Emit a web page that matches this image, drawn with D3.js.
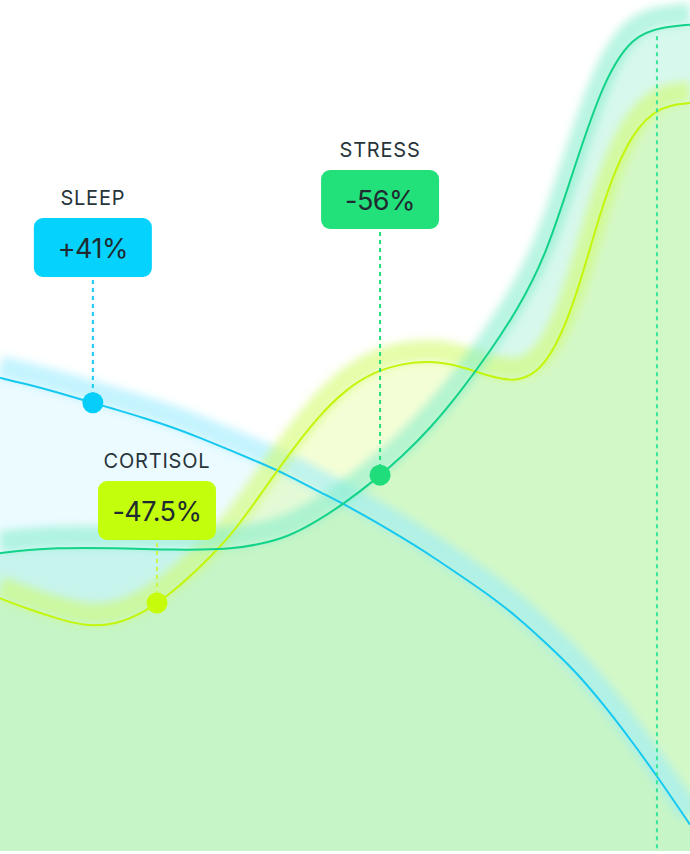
<!DOCTYPE html>
<html>
<head>
<meta charset="utf-8">
<script src="https://cdn.jsdelivr.net/npm/d3@7"></script>
<style>
  html, body { margin: 0; padding: 0; background: #ffffff; }
  svg { display: block; }
</style>
</head>
<body>
<div id="chart"></div>
<script>
// ---------- DATA ----------
const xSteps = d3.range(0, 25);
const sleepValues    = [55.6, 54.8, 53.9, 52.9, 51.9, 50.9, 49.8, 48.5, 47.1, 45.7, 44.2, 42.4, 40.7, 38.8, 36.8, 34.7, 32.4, 30.1, 27.5, 24.4, 21.2, 17.2, 12.8, 8.1, 3.1];
const stressValues   = [35.0, 35.4, 35.6, 35.6, 35.6, 35.5, 35.4, 35.4, 35.5, 36.0, 36.9, 38.7, 40.9, 43.5, 46.4, 49.8, 53.9, 58.5, 63.6, 70.0, 80.6, 90.6, 95.8, 96.8, 97.1];
const cortisolValues = [29.7, 28.4, 27.3, 26.4, 26.6, 28.0, 30.4, 33.5, 36.9, 41.6, 46.4, 50.8, 54.2, 56.3, 57.3, 57.6, 57.0, 55.8, 55.0, 56.8, 64.2, 76.9, 84.7, 87.6, 87.9];
const seriesNames  = ["SLEEP", "STRESS", "CORTISOL"];
const changeLabels = ["+41%", "-56%", "-47.5%"];
const markerX      = [3.23, 13.22, 5.46];
const guideX       = 22.85;

// ---------- LAYOUT / STYLE ----------
const W = 690, H = 854, bottom = 851;
const labelBoxTop = [218, 170, 481];
const styles = [
  { fill: "rgb(0,200,255)",  fillOp: 0.075, line: "#17c9f0", glow: "#95ebff", glowOp: 0.55, box: "#05d3fe", dot: "#05cefb", dash: "#18cdf4" },
  { fill: "rgb(20,215,150)", fillOp: 0.17,  line: "#12d389", glow: "#80ecca", glowOp: 0.55, box: "#22e07a", dot: "#1fdd7b", dash: "#22dd7c" },
  { fill: "rgb(195,250,30)", fillOp: 0.18,  line: "#c4f50c", glow: "#cffb60", glowOp: 0.55, box: "#c3fe0c", dot: "#c6fc0b", dash: "#cdf54a" }
];
const seriesValues = [sleepValues, stressValues, cortisolValues];

const x = d3.scaleLinear().domain([0, 24]).range([0, W]);
const y = d3.scaleLinear().domain([0, 100]).range([bottom, 0]);

const svg = d3.select("#chart").append("svg")
  .attr("width", W).attr("height", H)
  .style("font-family", "Inter, 'Noto Sans', sans-serif");

const defs = svg.append("defs");
defs.append("filter").attr("id", "blur")
  .attr("x", "-10%").attr("y", "-10%").attr("width", "120%").attr("height", "120%")
  .append("feGaussianBlur").attr("stdDeviation", 4);
defs.append("clipPath").attr("id", "clip")
  .append("rect").attr("x", 0).attr("y", 0).attr("width", W).attr("height", bottom);

const root = svg.append("g").attr("clip-path", "url(#clip)");

const series = seriesValues.map((vals, i) => ({
  name: seriesNames[i], style: styles[i],
  pts: xSteps.map((s, j) => ({ s, v: vals[j] }))
}));

const curve = d3.curveBasis;
const area = d3.area().curve(curve)
  .x(d => x(d.s)).y0(y(0)).y1(d => y(d.v));
const line = d3.line().curve(curve)
  .x(d => x(d.s)).y(d => y(d.v));

// fills
series.forEach(sr => {
  root.append("path").attr("d", area(sr.pts))
    .attr("fill", sr.style.fill).attr("fill-opacity", sr.style.fillOp);
});

// glows (order: sleep, cortisol, stress)
[0, 2, 1].forEach(i => {
  const sr = series[i];
  root.append("path").attr("d", line(sr.pts))
    .attr("transform", "translate(0,-11)")
    .attr("fill", "none").attr("stroke", sr.style.glow)
    .attr("stroke-width", 22).attr("stroke-opacity", sr.style.glowOp)
    .attr("filter", "url(#blur)");
});

// lines
const linePaths = [];
[0, 2, 1].forEach(i => {
  const sr = series[i];
  linePaths[i] = root.append("path").attr("d", line(sr.pts))
    .attr("fill", "none").attr("stroke", sr.style.line)
    .attr("stroke-width", 2);
});

function yAtX(pathSel, px) {
  const node = pathSel.node();
  const total = node.getTotalLength();
  let lo = 0, hi = total;
  for (let k = 0; k < 40; k++) {
    const mid = (lo + hi) / 2;
    if (node.getPointAtLength(mid).x < px) lo = mid; else hi = mid;
  }
  return node.getPointAtLength((lo + hi) / 2).y;
}

// vertical guide on the right
const gx = x(guideX);
const gTop = yAtX(linePaths[1], gx) + 7;
root.append("line").attr("x1", gx).attr("x2", gx).attr("y1", gTop).attr("y2", H)
  .attr("stroke", "#36e69b").attr("stroke-width", 2).attr("stroke-dasharray", "4,4");

// markers + labels
series.forEach((sr, i) => {
  const mx = x(markerX[i]);
  const my = yAtX(linePaths[i], mx);
  const top = labelBoxTop[i];
  const bw = 118, bh = 59;

  svg.append("line").attr("x1", mx).attr("x2", mx)
    .attr("y1", top + bh + 3).attr("y2", my)
    .attr("stroke", sr.style.dash).attr("stroke-width", 2).attr("stroke-dasharray", "4,4");

  svg.append("circle").attr("cx", mx).attr("cy", my).attr("r", 10.5)
    .attr("fill", sr.style.dot);

  svg.append("rect").attr("x", mx - bw / 2).attr("y", top)
    .attr("width", bw).attr("height", bh).attr("rx", 9)
    .attr("fill", sr.style.box);

  svg.append("text").attr("x", mx).attr("y", top - 13)
    .attr("text-anchor", "middle").attr("font-size", 20).attr("font-weight", 400)
    .attr("letter-spacing", 0.8).attr("fill", "#27343a")
    .text(sr.name);

  svg.append("text").attr("x", mx).attr("y", top + bh / 2 + 10)
    .attr("text-anchor", "middle").attr("font-size", 27).attr("font-weight", 400)
    .attr("letter-spacing", -0.5).attr("fill", "#1f2b30")
    .text(changeLabels[i]);
});
</script>
</body>
</html>
